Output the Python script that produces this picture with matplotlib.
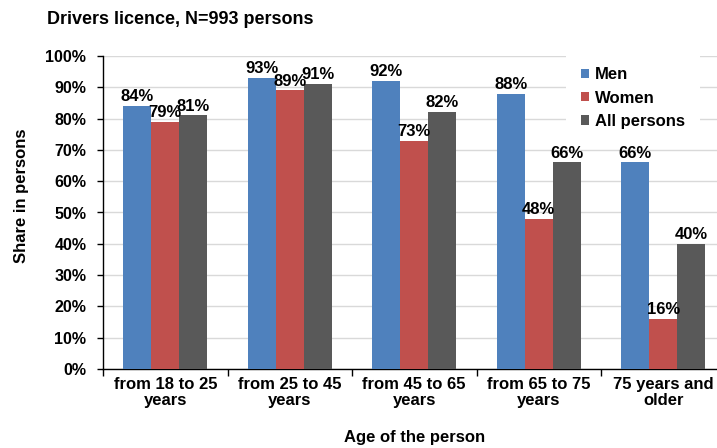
import matplotlib.pyplot as plt
import numpy as np

# driver licence share by age group
categories = ["from 18 to 25\nyears", "from 25 to 45\nyears", "from 45 to 65\nyears",
              "from 65 to 75\nyears", "75 years and\nolder"]
men = [84, 93, 92, 88, 66]
women = [79, 89, 73, 48, 16]
all_persons = [81, 91, 82, 66, 40]

plt.rcParams['font.family'] = ['Liberation Sans', 'DejaVu Sans']
plt.rcParams['font.weight'] = 'bold'

W, H = 717, 448
fig = plt.figure(figsize=(W / 100, H / 100), dpi=100)
# the plot area runs a little past the right edge of the canvas
ax = fig.add_axes([103 / W, 1 - 369 / H, 622.5 / W, 313 / H])

x = np.arange(len(categories))
w = 0.224
series = [(men, "Men", "#4F81BD"), (women, "Women", "#C0504D"), (all_persons, "All persons", "#595959")]
for i, (vals, name, col) in enumerate(series):
    bars = ax.bar(x + (i - 1) * w, vals, w, color=col, label=name, zorder=3)
    for b, v in zip(bars, vals):
        ax.text(b.get_x() + b.get_width() / 2, v + 0.6, f"{v}%", ha='center', va='bottom',
                fontsize=12, fontweight='bold', zorder=7, clip_on=False)

ax.set_xlim(-0.5, len(categories) - 0.5)
ax.set_ylim(0, 100)
ax.set_yticks(np.arange(0, 101, 10))
ax.set_yticklabels([f"{v}%" for v in range(0, 101, 10)], fontsize=11.5, fontweight='bold')
ax.yaxis.grid(True, color='#D9D9D9', linewidth=1, zorder=0)
ax.set_xticks(x)
ax.set_xticklabels(categories, fontsize=12, fontweight='bold', linespacing=1.05)
ax.tick_params(axis='x', length=0, pad=6)
ax.set_xticks(np.arange(-0.5, len(categories)), minor=True)
ax.tick_params(axis='x', which='minor', length=5, direction='out', width=1)
ax.tick_params(axis='y', length=4, direction='out', width=1, pad=8)

for s in ['top', 'right']:
    ax.spines[s].set_visible(False)
ax.spines['left'].set_linewidth(1)
ax.spines['bottom'].set_linewidth(1)

ax.set_xlabel("Age of the person", fontsize=12, fontweight='bold', labelpad=16)
ax.set_ylabel("Share in persons", fontsize=12, fontweight='bold')
ax.yaxis.set_label_coords(-0.119, 0.553)
fig.text(47 / W, 1 - 20 / H, "Drivers licence, N=993 persons", fontsize=13, fontweight='bold',
         ha='left', va='center')

leg = ax.legend(loc='upper right', bbox_to_anchor=(708 / W, 1 - 44 / H), bbox_transform=fig.transFigure,
                frameon=True, fancybox=False, edgecolor='none', framealpha=1, fontsize=12,
                handlelength=0.5, handleheight=0.5, handletextpad=0.35, labelspacing=0.5,
                borderpad=0.9)
leg.set_zorder(5)
for t in leg.get_texts():
    t.set_fontweight('bold')

fig.savefig("out.png", dpi=100)
